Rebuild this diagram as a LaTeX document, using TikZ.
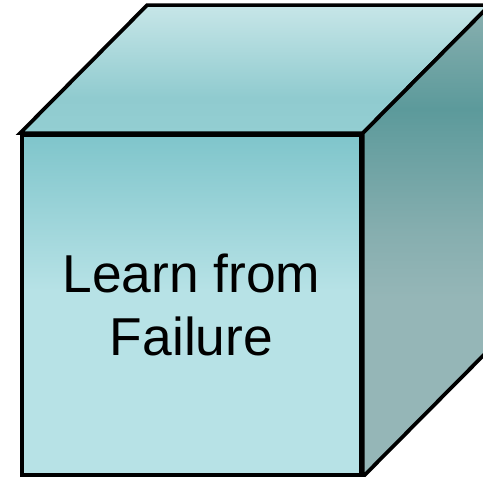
\documentclass[tikz,border=0pt]{standalone}
\usepackage{fontspec}
\setmainfont{Liberation Sans}
\usetikzlibrary{positioning,calc}
\definecolor{frontlow}{HTML}{B7E2E6}
\definecolor{fronthigh}{HTML}{7FC5CB}
\definecolor{toplow}{HTML}{93CED2}
\definecolor{topmid}{HTML}{90CBCF}
\definecolor{tophigh}{HTML}{C7E6E8}
\definecolor{sidelow}{HTML}{95B6B7}
\definecolor{sidemid}{HTML}{86AEAF}
\definecolor{sidedark}{HTML}{5C9A9B}
\definecolor{sidehigh}{HTML}{8AB0B0}
\pgfdeclareverticalshading{frontface}{100bp}{color(0bp)=(frontlow); color(52bp)=(frontlow);
  color(75bp)=(fronthigh); color(100bp)=(fronthigh)}
\pgfdeclareverticalshading{topface}{100bp}{color(0bp)=(toplow); color(25bp)=(toplow);
  color(39bp)=(topmid); color(75bp)=(tophigh); color(100bp)=(tophigh)}
\pgfdeclareverticalshading{sideface}{100bp}{color(0bp)=(sidelow); color(25bp)=(sidelow);
  color(44bp)=(sidelow); color(51bp)=(sidemid); color(64bp)=(sidedark);
  color(75bp)=(sidehigh); color(100bp)=(sidehigh)}
\tikzset{
  cubeface/.style={draw=black,line width=2.8pt,line join=miter},
  frontbox/.style={cubeface,shading=frontface,minimum width=254.25pt,minimum height=255pt,
    inner sep=0pt,align=center,font=\fontsize{40}{47}\selectfont}
}

\begin{document}
\begin{tikzpicture}[x=0.75pt,y=0.75pt]
  \useasboundingbox (0,0) rectangle (483,477);
  \clip (0,0) rectangle (483,477);
  \node[frontbox] (front) at (191.5,172) {};
  \coordinate (backleft) at ($(front.north west)+(127,128)$);
  \coordinate (backright) at ($(front.north east)+(127,128)$);
  \coordinate (backlow) at ($(front.south east)+(127,128)$);
  \draw[cubeface,shade,shading=topface] (front.north west) -- (backleft) -- (backright)
    -- (front.north east) -- cycle;
  \draw[cubeface,shade,shading=sideface] (front.north east) -- (backright) -- (backlow)
    -- (front.south east) -- cycle;
  \node[frontbox] (front) at (191.5,172) {Learn from\\Failure};
\end{tikzpicture}
\end{document}
